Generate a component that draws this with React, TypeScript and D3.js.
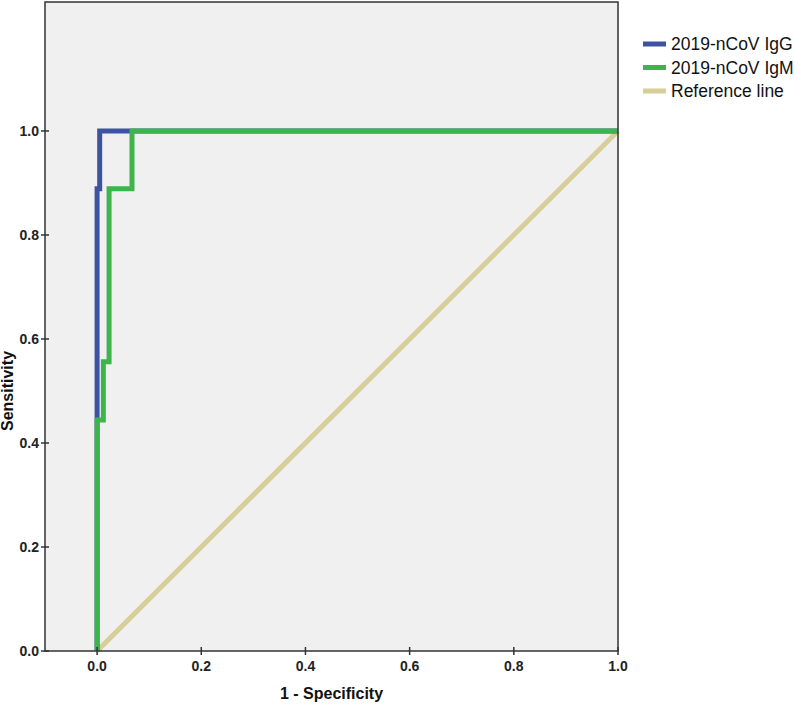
import React from "react";
import * as d3 from "d3";

const W = 795;
const H = 705;

const xTicks = [0.0, 0.2, 0.4, 0.6, 0.8, 1.0];
const yTicks = [0.0, 0.2, 0.4, 0.6, 0.8, 1.0];

// ROC points [1 - specificity, sensitivity]
const igG: [number, number][] = [
  [0, 0],
  [0, 0.889],
  [0.005, 0.889],
  [0.005, 1],
  [1, 1],
];
const igM: [number, number][] = [
  [0, 0],
  [0, 0.444],
  [0.012, 0.444],
  [0.012, 0.556],
  [0.023, 0.556],
  [0.023, 0.889],
  [0.067, 0.889],
  [0.067, 1],
  [1, 1],
];
const refLine: [number, number][] = [
  [0, 0],
  [1, 1],
];

const seriesNames = ["2019-nCoV IgG", "2019-nCoV IgM", "Reference line"];
const seriesColors = ["#3D52A1", "#3DB54A", "#D6CF9A"];

export default function App() {
  const x = d3.scaleLinear().domain([-0.1, 1]).range([45, 618]);
  const y = d3.scaleLinear().domain([0, 1.248]).range([651, 2]);
  const line = d3
    .line<[number, number]>()
    .x((d) => x(d[0]))
    .y((d) => y(d[1]));

  const [x0, x1] = x.range();
  const [yb, yt] = y.range();
  const font = "'Liberation Sans', Arial, sans-serif";
  const order = [
    { data: refLine, color: seriesColors[2] },
    { data: igG, color: seriesColors[0] },
    { data: igM, color: seriesColors[1] },
  ];

  return (
    <svg
      width={W}
      height={H}
      style={{ position: "absolute", left: 0, top: 0, background: "#fff" }}
      fontFamily={font}
    >
      <rect x={x0} y={yt} width={x1 - x0} height={yb - yt} fill="#F0F0F0" />
      {order.map((s, i) => (
        <path
          key={i}
          d={line(s.data) || ""}
          fill="none"
          stroke={s.color}
          strokeWidth={5}
          strokeLinejoin="miter"
        />
      ))}
      <rect
        x={x0}
        y={yt}
        width={x1 - x0}
        height={yb - yt}
        fill="none"
        stroke="#333"
        strokeWidth={1.5}
      />
      {xTicks.map((t) => (
        <g key={"x" + t}>
          <line x1={x(t)} x2={x(t)} y1={yb - 4} y2={yb + 4} stroke="#333" strokeWidth={1.5} />
          <text
            x={x(t)}
            y={yb + 20}
            textAnchor="middle"
            fontSize={14}
            fontWeight="bold"
            fill="#222"
          >
            {t.toFixed(1)}
          </text>
        </g>
      ))}
      {yTicks.map((t) => (
        <g key={"y" + t}>
          <line x1={x0 - 4} x2={x0 + 4} y1={y(t)} y2={y(t)} stroke="#333" strokeWidth={1.5} />
          <text
            x={x0 - 6}
            y={y(t) + 5}
            textAnchor="end"
            fontSize={14}
            fontWeight="bold"
            fill="#222"
          >
            {t.toFixed(1)}
          </text>
        </g>
      ))}
      <text
        x={(x0 + x1) / 2}
        y={699}
        textAnchor="middle"
        fontSize={16}
        fontWeight="bold"
        fill="#111"
      >
        1 - Specificity
      </text>
      <text
        transform={`translate(13,${(y(0) + y(1)) / 2}) rotate(-90)`}
        textAnchor="middle"
        fontSize={16}
        fontWeight="bold"
        fill="#111"
      >
        Sensitivity
      </text>
      {seriesNames.map((n, i) => (
        <g key={n} transform={`translate(643,${44 + i * 23.5})`}>
          <line x1={0} x2={23} y1={0} y2={0} stroke={seriesColors[i]} strokeWidth={5} />
          <text x={28} y={6} fontSize={17.5} fill="#111">
            {n}
          </text>
        </g>
      ))}
    </svg>
  );
}
